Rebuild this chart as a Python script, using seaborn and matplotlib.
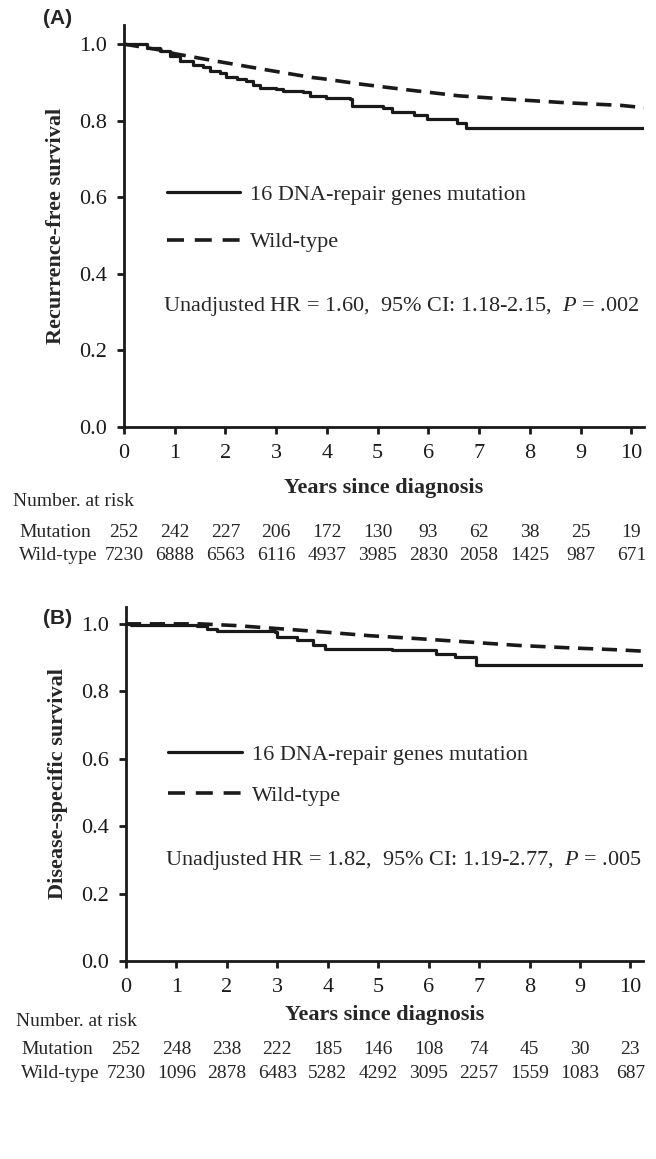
import matplotlib
matplotlib.use('Agg')
import matplotlib.pyplot as plt
import matplotlib.transforms as mtransforms
import pandas as pd
import seaborn as sns

# Kaplan-Meier curves (years, survival)
rfs_mut_t = [0, 0.45, 0.71, 0.9, 1.1, 1.36, 1.56, 1.69, 1.89, 2.02, 2.22, 2.41, 2.54, 2.68, 3.0, 3.13,
             3.53, 3.66, 3.99, 4.46, 4.5, 5.1, 5.28, 5.71, 5.97, 6.56, 6.75, 10.25]
rfs_mut_s = [1.0, 0.99, 0.983, 0.97, 0.956, 0.945, 0.939, 0.93, 0.925, 0.915, 0.908, 0.903, 0.892, 0.886,
             0.882, 0.878, 0.875, 0.864, 0.86, 0.856, 0.838, 0.834, 0.823, 0.814, 0.805, 0.795, 0.782, 0.782]
rfs_wt_t = [0, 0.7, 1.0, 1.8, 2.8, 3.7, 3.9, 4.7, 5.5, 6.6, 7.6, 8.7, 9.8, 10.25]
rfs_wt_s = [1.0, 0.985, 0.975, 0.956, 0.933, 0.913, 0.91, 0.895, 0.882, 0.865, 0.856, 0.847, 0.84, 0.834]

dss_mut_t = [0, 0.1, 1.4, 1.6, 1.8, 2.95, 3.0, 3.4, 3.7, 3.95, 5.28, 6.14, 6.53, 6.93, 10.25]
dss_mut_s = [1.0, 0.996, 0.995, 0.985, 0.978, 0.975, 0.962, 0.951, 0.936, 0.926, 0.921, 0.911, 0.901,
             0.877, 0.877]
dss_wt_t = [0, 1.46, 2.16, 3.1, 3.82, 4.82, 5.8, 6.8, 7.78, 8.77, 9.75, 10.25]
dss_wt_s = [1.0, 1.0, 0.995, 0.985, 0.977, 0.965, 0.956, 0.946, 0.936, 0.929, 0.923, 0.919]

years = list(range(11))
rfs_risk_mut = [252, 242, 227, 206, 172, 130, 93, 62, 38, 25, 19]
rfs_risk_wt = [7230, 6888, 6563, 6116, 4937, 3985, 2830, 2058, 1425, 987, 671]
dss_risk_mut = [252, 248, 238, 222, 185, 146, 108, 74, 45, 30, 23]
dss_risk_wt = [7230, 1096, 2878, 6483, 5282, 4292, 3095, 2257, 1559, 1083, 687]

labels = ['16 DNA-repair genes mutation', 'Wild-type']
ylabels = ['Recurrence-free survival', 'Disease-specific survival']
stats = ['Unadjusted HR = 1.60,  95% CI: 1.18-2.15,  $P$ = .002',
         'Unadjusted HR = 1.82,  95% CI: 1.19-2.77,  $P$ = .005']

sns.set_style('ticks')
serif = 'Liberation Serif'
plt.rcParams['font.family'] = [serif, 'DejaVu Serif']
plt.rcParams['mathtext.fontset'] = 'custom'
plt.rcParams['mathtext.it'] = 'Liberation Serif:italic'
plt.rcParams['mathtext.rm'] = 'Liberation Serif'

W, H = 656, 1159
ink = '#1a1a1a'
fig = plt.figure(figsize=(W / 100, H / 100), dpi=100)


def fy(px):
    return 1 - px / H


# axes boxes in pixels: left, right, top, bottom
boxes = [(124, 644, 25, 427), (126, 643, 607, 961)]
panels = [
    (rfs_mut_t, rfs_mut_s, rfs_wt_t, rfs_wt_s, rfs_risk_mut, rfs_risk_wt),
    (dss_mut_t, dss_mut_s, dss_wt_t, dss_wt_s, dss_risk_mut, dss_risk_wt),
]
# text rows (pixel y): xlabel, number at risk, mutation, wild-type, panel letter
rows = [(488, 502, 532, 555, 19), (1015, 1022, 1050, 1073, 618)]
letters = ['(A)', '(B)']
nar_x = [13, 16]
row_x = [19, 21]
leg_top = [0.603, 0.612]
leg_space = [1.2, 0.92]
stat_y = [0.30, 0.294 - 4 / 354]

for i, (box, data) in enumerate(zip(boxes, panels)):
    l, r, t, b = box
    ax = fig.add_axes([l / W, fy(b), (r - l) / W, (b - t) / H])
    mt, ms, wt, ws, rm, rw = data
    dm = pd.DataFrame({'t': mt, 's': ms})
    dw = pd.DataFrame({'t': wt, 's': ws})
    sns.lineplot(data=dm, x='t', y='s', ax=ax, color=ink, lw=2.3,
                 drawstyle='steps-post', label=labels[0])
    sns.lineplot(data=dw, x='t', y='s', ax=ax, color=ink, lw=2.6, label=labels[1])
    ax.lines[1].set_dashes((4.2, 2.4))
    ax.set_xlim(0, 10.25)
    ax.set_ylim(0, 1.05)
    ax.set_xticks(years)
    ax.set_yticks([0, 0.2, 0.4, 0.6, 0.8, 1.0])
    ax.set_yticklabels(['0.0', '0.2', '0.4', '0.6', '0.8', '1.0'])
    sns.despine(ax=ax)
    for s in ['left', 'bottom']:
        ax.spines[s].set_linewidth(2.0)
        ax.spines[s].set_color(ink)
    ax.tick_params(direction='out', length=5, width=2.0, labelsize=16, pad=7, colors=ink)
    ax.set_xlabel('')
    ax.set_ylabel(ylabels[i], fontsize=16, fontweight='bold', labelpad=10)

    leg = ax.legend(loc='upper left', bbox_to_anchor=(0.082, leg_top[i]), frameon=False,
                    fontsize=16, handlelength=3.3, handletextpad=0.45, labelspacing=leg_space[i],
                    borderpad=0, borderaxespad=0)
    leg.get_lines()[1].set_dashes((4.7, 3.0))
    ax.text(0.075, stat_y[i], stats[i], transform=ax.transAxes,
            fontsize=16, va='center', ha='left')

    xr, nar, ym, yw, yl = rows[i]
    fig.text((l + r) / 2 / W, fy(xr), 'Years since diagnosis', fontsize=16,
             fontweight='bold', ha='center', va='center')
    fig.text(nar_x[i] / W, fy(nar), 'Number. at risk', fontsize=14, ha='left', va='center')
    fig.text(row_x[i] / W, fy(ym), 'Mutation', fontsize=14, ha='left', va='center')
    fig.text(row_x[i] / W, fy(yw), 'Wild-type', fontsize=14, ha='left', va='center')
    trans = mtransforms.blended_transform_factory(ax.transData, fig.transFigure)
    for x, a, c in zip(years, rm, rw):
        ax.text(x, fy(ym), str(a), transform=trans, fontsize=14, ha='center', va='center')
        ax.text(x, fy(yw), str(c), transform=trans, fontsize=14, ha='center', va='center')
    fig.text(43 / W, fy(yl), letters[i], fontsize=15, fontweight='bold',
             family=['Liberation Sans', 'DejaVu Sans'], ha='left', va='center')

fig.savefig('out.png', dpi=100)
